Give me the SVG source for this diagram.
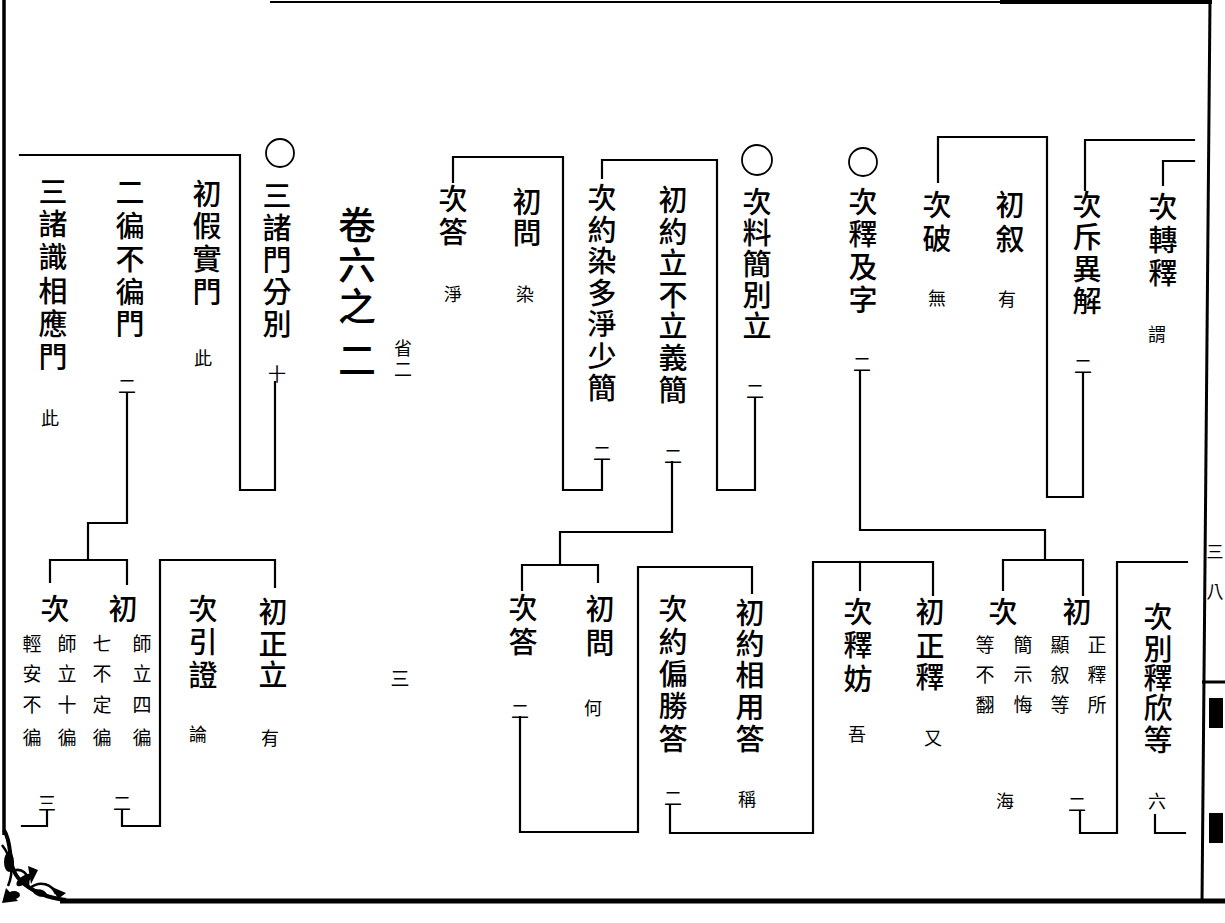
<svg xmlns="http://www.w3.org/2000/svg" width="1225" height="923" viewBox="0 0 1225 923">
<style>
text{font-family:"Noto Sans CJK TC","Noto Sans CJK SC",sans-serif;fill:#000;text-anchor:middle;dominant-baseline:central}
.m{font-size:29px;font-weight:500}
.b{font-size:38px;font-weight:500}
.s{font-size:18px}
.d{font-size:19px}
.c{fill:none;stroke:#000;stroke-width:2.2;stroke-linejoin:miter;stroke-linecap:square}
.o{fill:none;stroke:#000;stroke-width:1.8}
.f{fill:none;stroke:#000}
</style>
<rect width="1225" height="923" fill="#fff"/>
<g id="frame">
<path class="f" stroke-width="2" d="M270 2H1000"/>
<path class="f" stroke-width="4" d="M1000 2H1212"/>
<path class="f" stroke-width="3.5" d="M4 0V835"/>
<path class="f" stroke-width="3" d="M1210 0L1202 903"/>
<path class="f" stroke-width="3" d="M1202 682H1225"/>
<path class="f" stroke-width="5" d="M60 901H1225"/>
<path class="f" stroke-width="4" d="M4 830C14 846 6 866 20 880C32 892 48 898 66 900"/>
<path class="f" stroke-width="2.5" d="M2 845C12 858 14 872 8 886M10 872C22 866 30 874 28 886M30 888C40 880 52 884 56 894"/>
<ellipse cx="9" cy="862" rx="5" ry="10" fill="#000"/>
<ellipse cx="24" cy="880" rx="9" ry="4" transform="rotate(-35 24 880)" fill="#000"/>
<ellipse cx="40" cy="893" rx="7" ry="3.5" transform="rotate(15 40 893)" fill="#000"/>
<ellipse cx="14" cy="895" rx="6" ry="4" fill="#000"/>
<path d="M28 866L38 870L31 884Z M52 887L66 893L58 899Z M6 888L18 901L2 903Z" fill="#000"/>
<text x="1215" y="550" font-size="17">三</text>
<text x="1215" y="590" font-size="17">八</text>
<rect x="1209" y="698" width="14" height="30" fill="#000"/>
<rect x="1209" y="813" width="14" height="30" fill="#000"/>
</g>
<g id="connectors">
<path class="c" d="M1085 190V140H1194"/>
<path class="c" d="M1163 185V161H1194"/>
<path class="c" d="M1083 373V497H1047V137H938V182"/>
<path class="c" d="M860 372V530H1045V560"/>
<path class="c" d="M1003 590V560H1083V595"/>
<path class="c" d="M755 398V490H717V160H602V178"/>
<path class="c" d="M672 462V532H560V565"/>
<path class="c" d="M522 590V565H598V582"/>
<path class="c" d="M602 460V490H563V157H453V182"/>
<path class="c" d="M275 382V490H240V155H20"/>
<path class="c" d="M127 393V523H88V560"/>
<path class="c" d="M50 582V560H127V584"/>
<path class="c" d="M122 810V826H160V560H275V587"/>
<path class="c" d="M47 810V826H22"/>
<path class="c" d="M520 717V832H638V567H752V593"/>
<path class="c" d="M670 805V833H813V562H933V595"/>
<path class="c" d="M860 562V590"/>
<path class="c" d="M1080 812V833H1117V562H1187"/>
<path class="c" d="M1155 815V833H1185"/>
</g>
<g id="n-zhuanshi"><text class="m" x="1163 1163 1163" y="205 238 271">次轉釋</text><text class="s" x="1157" y="333">謂</text></g>
<g id="n-chiyijie"><text class="m" x="1087 1087 1087 1087" y="203 235 267 299">次斥異解</text><text class="s" x="1083" y="365">二</text></g>
<g id="n-chuxu"><text class="m" x="1010 1010" y="203 237">初叙</text><text class="s" x="1007" y="298">有</text></g>
<g id="n-cipo"><text class="m" x="937 937" y="203 237">次破</text><text class="s" x="937" y="297">無</text></g>
<g id="n-shijizi"><circle class="o" cx="863" cy="162" r="14"/><text class="m" x="863 863 863 863" y="200 232 265 298">次釋及字</text><text class="s" x="862" y="363">二</text></g>
<g id="n-liaojian"><circle class="o" cx="757" cy="160" r="15"/><text class="m" x="757 757 757 757 757" y="200 231 262 293 324">次料簡別立</text><text class="s" x="755" y="390">二</text></g>
<g id="n-yuelibuli"><text class="m" x="673 673 673 673 673 673 673" y="198 230 261 293 324 356 388">初約立不立義簡</text><text class="s" x="673" y="455">二</text></g>
<g id="n-yueranduo"><text class="m" x="602 602 602 602 602 602 602" y="196 228 259 291 322 354 386">次約染多淨少簡</text><text class="s" x="602" y="452">二</text></g>
<g id="n-wen1"><text class="m" x="527 527" y="200 231">初問</text><text class="s" x="525" y="293">染</text></g>
<g id="n-da1"><text class="m" x="453 453" y="197 230">次答</text><text class="s" x="453" y="293">淨</text></g>
<g id="n-juan"><text class="b" x="357 357 357 357" y="222 262 303 357">卷六之二</text><text class="s" x="403 403" y="347 368">省二</text></g>
<g id="n-zhumen"><circle class="o" cx="280" cy="153" r="14"/><text class="m" x="277 277 277 277 277" y="194 226 258 290 322">三諸門分別</text><text class="s" x="277" y="373">十</text></g>
<g id="n-jiashi"><text class="m" x="207 207 207 207" y="192 224 257 290">初假實門</text><text class="s" x="203" y="357">此</text></g>
<g id="n-bian"><text class="m" x="130 130 130 130 130" y="190 224 257 290 322">二徧不徧門</text><text class="s" x="127" y="385">二</text></g>
<g id="n-xiangying"><text class="m" x="53 53 53 53 53 53" y="190 222 255 289 322 355">三諸識相應門</text><text class="s" x="50" y="417">此</text></g>
<g id="n-chu-sibian"><text class="m" x="123" y="607">初</text><text class="d" x="142 142 142 142" y="642 672 703 736">師立四徧</text><text class="d" x="102 102 102 102" y="642 672 703 736">七不定徧</text><text class="s" x="122" y="802">二</text></g>
<g id="n-ci-shibian"><text class="m" x="55" y="607">次</text><text class="d" x="67 67 67 67" y="642 672 703 736">師立十徧</text><text class="d" x="32 32 32 32" y="642 672 703 736">輕安不徧</text><text class="s" x="47" y="802">三</text></g>
<g id="n-zhengli"><text class="m" x="273 273 273" y="610 642 673">初正立</text><text class="s" x="270" y="737">有</text></g>
<g id="n-yinzheng"><text class="m" x="203 203 203" y="607 640 673">次引證</text><text class="s" x="198" y="733">論</text></g>
<g id="n-san"><text class="d" x="400" y="677">三</text></g>
<g id="n-da2"><text class="m" x="523 523" y="606 640">次答</text><text class="s" x="520" y="710">二</text></g>
<g id="n-wen2"><text class="m" x="600 600" y="607 641">初問</text><text class="s" x="593" y="707">何</text></g>
<g id="n-pianshengda"><text class="m" x="673 673 673 673 673" y="607 640 672 704 737">次約偏勝答</text><text class="s" x="673" y="797">二</text></g>
<g id="n-xiangyongda"><text class="m" x="750 750 750 750 750" y="611 642 673 705 737">初約相用答</text><text class="s" x="747" y="798">稱</text></g>
<g id="n-shifang"><text class="m" x="858 858 858" y="610 643 677">次釋妨</text><text class="s" x="857" y="733">吾</text></g>
<g id="n-zhengshi"><text class="m" x="930 930 930" y="610 644 675">初正釋</text><text class="s" x="933" y="737">又</text></g>
<g id="n-jianshi"><text class="m" x="1003" y="610">次</text><text class="d" x="1023 1023 1023" y="643 673 703">簡示悔</text><text class="d" x="985 985 985" y="643 673 703">等不翻</text><text class="s" x="1005" y="800">海</text></g>
<g id="n-zhengshisuo"><text class="m" x="1077" y="610">初</text><text class="d" x="1097 1097 1097" y="643 673 703">正釋所</text><text class="d" x="1060 1060 1060" y="643 673 703">顯叙等</text><text class="s" x="1077" y="803">二</text></g>
<g id="n-bieshi"><text class="m" x="1158 1158 1158 1158 1158" y="615 647 676 706 738">次別釋欣等</text><text class="s" x="1157" y="800">六</text></g>
</svg>
